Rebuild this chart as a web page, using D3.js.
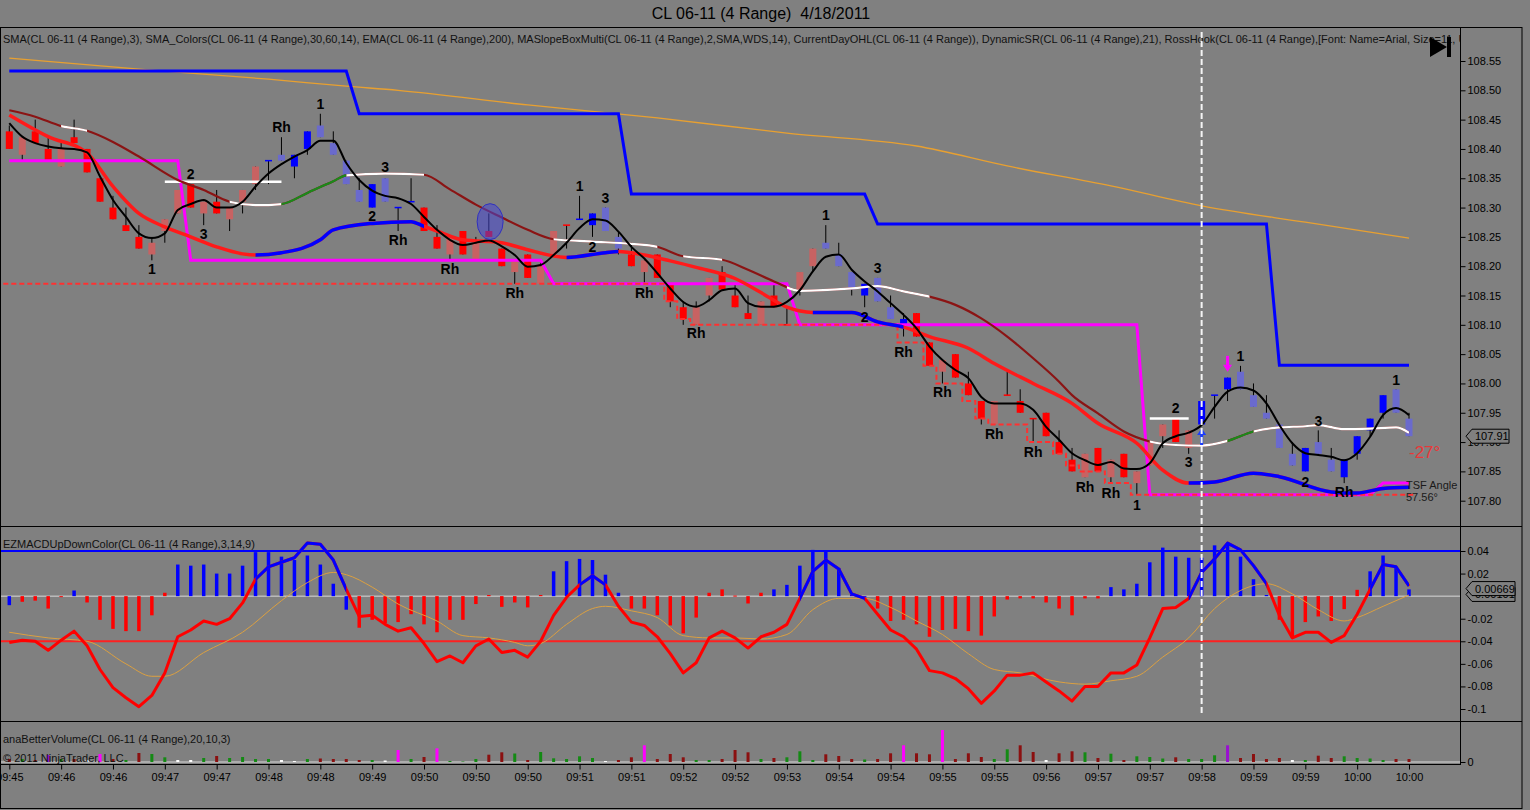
<!DOCTYPE html>
<html>
<head>
<meta charset="utf-8">
<script src="https://cdn.jsdelivr.net/npm/d3@7"></script>
<style>
body { margin: 0; background: #808080; }
svg { display: block; font-family: "Liberation Sans", Arial, sans-serif; }
</style>
</head>
<body>
<svg id="chart" width="1530" height="810"></svg>
<script>
// ---- data ----
var timeLabels = ["09:45","09:46","09:46","09:47","09:47","09:48","09:48","09:49","09:50","09:50",
  "09:50","09:51","09:51","09:52","09:52","09:53","09:54","09:54","09:55","09:55",
  "09:56","09:57","09:57","09:58","09:59","09:59","10:00","10:00"];

var opens = [108.43,108.42,108.43,108.40,108.40,108.42,108.40,108.35,108.30,108.27,
  108.25,108.24,108.28,108.33,108.34,108.31,108.31,108.30,108.33,108.37,
  108.38,108.38,108.37,108.40,108.42,108.39,108.34,108.31,108.30,108.31,
  108.30,108.31,108.30,108.25,108.25,108.26,108.24,108.26,108.23,108.21,
  108.22,108.20,108.26,108.27,108.28,108.27,108.26,108.23,108.22,108.21,
  108.22,108.17,108.13,108.13,108.18,108.19,108.15,108.12,108.14,108.15,
  108.10,108.19,108.23,108.23,108.20,108.16,108.15,108.14,108.11,108.10,
  108.12,108.07,108.04,108.05,108.00,107.97,107.97,107.98,107.97,107.94,
  107.95,107.90,107.87,107.88,107.89,107.87,107.88,107.85,107.90,107.93,
  107.94,107.92,107.93,107.98,107.99,107.99,107.96,107.94,107.89,107.86,
  107.85,107.88,107.85,107.84,107.88,107.92,107.95,107.95,107.91];
var highs = [108.44,108.42,108.45,108.42,108.41,108.45,108.40,108.35,108.32,108.30,
  108.27,108.25,108.28,108.33,108.34,108.31,108.33,108.30,108.33,108.37,
  108.38,108.42,108.39,108.43,108.46,108.43,108.38,108.35,108.34,108.35,
  108.30,108.35,108.30,108.27,108.25,108.26,108.25,108.29,108.23,108.21,
  108.22,108.21,108.26,108.27,108.32,108.29,108.30,108.26,108.24,108.21,
  108.22,108.17,108.14,108.14,108.18,108.20,108.17,108.15,108.14,108.17,
  108.13,108.19,108.23,108.27,108.24,108.19,108.17,108.18,108.15,108.12,
  108.12,108.07,108.04,108.05,108.02,107.97,107.97,108.02,107.99,107.94,
  107.95,107.92,107.89,107.88,107.89,107.87,107.88,107.85,107.90,107.93,
  107.94,107.92,107.97,107.98,108.01,108.03,108.00,107.98,107.93,107.90,
  107.89,107.92,107.89,107.87,107.91,107.94,107.98,107.99,107.95];
var lows = [108.40,108.38,108.41,108.38,108.37,108.41,108.36,108.31,108.28,108.26,
  108.23,108.21,108.24,108.29,108.30,108.27,108.29,108.26,108.29,108.33,
  108.34,108.38,108.35,108.39,108.42,108.39,108.34,108.31,108.30,108.31,
  108.26,108.31,108.26,108.23,108.21,108.22,108.21,108.25,108.20,108.17,
  108.18,108.17,108.22,108.23,108.28,108.25,108.26,108.22,108.20,108.17,
  108.18,108.13,108.10,108.10,108.14,108.16,108.13,108.11,108.10,108.13,
  108.10,108.15,108.19,108.23,108.20,108.15,108.13,108.14,108.11,108.08,
  108.08,108.03,108.00,108.01,107.98,107.93,107.93,107.98,107.95,107.90,
  107.91,107.88,107.85,107.84,107.85,107.83,107.84,107.81,107.86,107.89,
  107.90,107.88,107.93,107.94,107.97,107.99,107.96,107.94,107.89,107.86,
  107.85,107.88,107.85,107.83,107.87,107.91,107.94,107.95,107.91];
var closes = [108.40,108.39,108.41,108.38,108.37,108.41,108.36,108.31,108.28,108.26,
  108.23,108.22,108.26,108.29,108.30,108.29,108.29,108.28,108.31,108.34,
  108.38,108.39,108.39,108.43,108.44,108.41,108.38,108.33,108.34,108.35,
  108.30,108.31,108.26,108.23,108.22,108.22,108.21,108.25,108.20,108.19,
  108.18,108.17,108.22,108.27,108.28,108.29,108.30,108.25,108.20,108.19,
  108.18,108.14,108.11,108.10,108.15,108.16,108.13,108.11,108.10,108.13,
  108.10,108.16,108.20,108.24,108.22,108.19,108.17,108.18,108.13,108.11,
  108.08,108.03,108.02,108.01,107.98,107.94,107.93,107.98,107.95,107.94,
  107.91,107.88,107.85,107.84,107.85,107.84,107.84,107.83,107.86,107.91,
  107.90,107.89,107.97,107.98,108.01,108.02,107.98,107.95,107.93,107.88,
  107.89,107.90,107.87,107.87,107.91,107.94,107.98,107.99,107.94];
// R red, r pale red, B blue, b pale blue
var barColors = "RrRRrRRRRR" + "RrrrRrRrrr" + "bbBBbbbbBb" + "BBRRrRrRRr" + "RrrrbBbbRr" +
  "RRRrrRRRrR" + "rrrbbbBbbB" + "RRrRRRrrRr" + "RRRrRrRrrr" + "RrBbBbbbbb" + "BbbBBBBbb";

// SMA(3) black
var smaFast = [108.444,108.421,108.410,108.404,108.401,108.400,108.394,108.353,108.313,108.284,
  108.256,108.248,108.256,108.296,108.306,108.313,108.300,108.300,108.310,108.336,
  108.358,108.374,108.387,108.398,108.414,108.414,108.376,108.347,108.329,108.320,
  108.316,108.306,108.284,108.262,108.245,108.236,108.240,108.244,108.234,108.219,
  108.199,108.202,108.219,108.240,108.265,108.280,108.278,108.259,108.233,108.213,
  108.188,108.162,108.139,108.131,108.142,108.159,108.162,108.137,108.131,108.131,
  108.139,108.159,108.191,108.216,108.220,108.194,108.174,108.157,108.137,108.117,
  108.094,108.063,108.040,108.023,108.009,107.977,107.966,107.966,107.966,107.955,
  107.926,107.904,107.881,107.869,107.861,107.866,107.855,107.854,107.864,107.898,
  107.910,107.916,107.929,107.960,107.986,107.993,107.988,107.966,107.929,107.898,
  107.881,107.878,107.875,107.869,107.881,107.909,107.946,107.958,107.946];

// SMA_Colors slow line (dark red, with white / green stretches)
var smaSlow = [[0,108.466],[2,108.455],[4,108.439],[6,108.431],[8,108.412],[10,108.387],[13,108.347],
  [15,108.330],[17,108.310],[19,108.304],[21,108.306],[23,108.325],[25,108.345],[26,108.355],[29,108.358],
  [32,108.356],[34,108.331],[36,108.305],[38,108.283],[40,108.262],[42,108.246],[45,108.242],[48,108.238],
  [50,108.233],[52,108.217],[55,108.211],[57,108.194],[59,108.174],[61,108.158],[65,108.162],[67,108.166],
  [69,108.157],[71,108.148],[73,108.134],[75,108.111],[77,108.080],[79,108.043],[81,108.003],[82,107.980],
  [84,107.949],[86,107.918],[88,107.901],[90,107.895],[92,107.894],[94,107.902],[96,107.918],[98,107.925],
  [100,107.927],[101,107.929],[103,107.922],[105,107.923],[107,107.925],[108,107.916]];
var smaSlowWhite = [[4,6],[17,21],[26,32],[42,50],[52,55],[60,71],[88,94],[96,108]];
var smaSlowGreen = [[21,26],[94,96]];

// SMA_Colors mid line (red, blue stretches)
var smaMid = [[0,108.458],[3,108.421],[6,108.393],[8,108.336],[10,108.290],[12,108.267],[14,108.250],
  [16,108.233],[18,108.221],[19,108.219],[21,108.223],[24,108.245],[25,108.262],[28,108.273],[31,108.276],
  [32,108.268],[33,108.260],[35,108.245],[38,108.240],[40,108.228],[43,108.215],[46,108.223],[47,108.225],
  [49,108.219],[51,108.209],[53,108.198],[56,108.179],[58,108.155],[60,108.130],[62,108.121],[65,108.121],
  [67,108.105],[69,108.096],[71,108.080],[74,108.060],[76,108.034],[79,108.000],[82,107.966],[84,107.932],
  [87,107.898],[89,107.852],[91,107.830],[93,107.832],[96,107.847],[98,107.841],[102,107.815],[104,107.813],
  [106,107.821],[108,107.823]];
var smaMidBlue = [[19,32],[43,47],[62,69],[91,108]];

// EMA(200)
var ema200 = [[0,108.555],[10,108.536],[20,108.519],[26,108.507],[30,108.500],[40,108.475],[50,108.453],
  [60,108.427],[70,108.405],[77,108.371],[85,108.337],[92,108.303],[100,108.275],[108,108.248]];

// DynamicSR (blue) and MASlopeBox level (magenta) steps
var srLevels = [108.533, 108.46, 108.323, 108.272, 108.031];
var srStarts = [0, 27, 48, 67, 98];
var boxLevels = [108.38, 108.21, 108.17, 108.10, 107.81, 107.83];
var boxStarts = [0, 14, 42, 61, 88, 106];

// current day low (red dashed stairs)
var dayLow = [[0,108.17],[51,108.14],[52,108.11],[53,108.10],[69,108.07],[71,108.03],[72,108.00],
  [74,107.97],[75,107.94],[76,107.93],[79,107.90],[81,107.88],[82,107.86],[83,107.85],[85,107.83],
  [87,107.81],[108,107.81]];

// RossHook levels and labels
var hookLevels = [[12,21,108.344],[88,91,107.94]];
var hookLabels = [[21,108.437,"Rh"],[24,108.477,"1"],[14,108.357,"2"],[15,108.255,"3"],[11,108.195,"1"],
  [29,108.369,"3"],[28,108.286,"2"],[30,108.245,"Rh"],[34,108.195,"Rh"],[39,108.154,"Rh"],
  [44,108.337,"1"],[46,108.316,"3"],[45,108.233,"2"],[49,108.154,"Rh"],[53,108.086,"Rh"],
  [63,108.287,"1"],[67,108.197,"3"],[66,108.113,"2"],[69,108.054,"Rh"],[72,107.985,"Rh"],
  [76,107.914,"Rh"],[79,107.883,"Rh"],[83,107.823,"Rh"],[85,107.813,"Rh"],[87,107.793,"1"],
  [90,107.958,"2"],[91,107.866,"3"],[95,108.047,"1"],[101,107.936,"3"],[100,107.832,"2"],
  [103,107.815,"Rh"],[107,108.006,"1"]];

// EZMACD
var macdHist = [-0.008,-0.005,-0.004,-0.011,-0.0005,0.005,-0.0056,-0.021,-0.029,-0.031,
  -0.031,-0.017,0.003,0.028,0.027,0.028,0.020,0.020,0.027,0.039,
  0.039,0.035,0.032,0.036,0.028,0.011,-0.012,-0.028,-0.021,-0.024,
  -0.023,-0.016,-0.025,-0.032,-0.021,-0.021,-0.007,0.001,-0.0095,-0.0056,
  -0.010,0.001,0.022,0.031,0.033,0.032,0.019,0.003,-0.011,-0.011,
  -0.017,-0.026,-0.033,-0.019,0.003,0.006,0.0005,-0.0065,0.003,0.006,
  0.010,0.027,0.041,0.040,0.025,0.001,-0.001,-0.011,-0.022,-0.021,
  -0.025,-0.036,-0.030,-0.029,-0.031,-0.035,-0.018,-0.003,-0.002,-0.002,
  -0.0056,-0.011,-0.017,-0.002,-0.002,0.008,0.006,0.011,0.030,0.043,
  0.035,0.034,0.034,0.045,0.045,0.035,0.015,0.001,-0.021,-0.037,
  -0.023,-0.018,-0.022,-0.0115,0.0056,0.022,0.036,0.026,0.006];
var macdHistColors = "brrrrbrrrr" + "rrrbbbbbbb" + "bbbbbbbrrr" + "rrrrrrrrrr" + "rrbbbbbbrr" +
  "rrrrrrrrrb" + "bbbbbbbrrr" + "rrrrrrrrrr" + "rrrrrbbbbb" + "bbbbbbbbrr" + "rrrrrbbbb";
var macdLine = [-0.041,-0.039,-0.040,-0.048,-0.039,-0.031,-0.044,-0.065,-0.081,-0.090,
  -0.098,-0.088,-0.068,-0.036,-0.030,-0.022,-0.025,-0.020,-0.006,0.015,
  0.026,0.030,0.034,0.047,0.046,0.032,0.006,-0.018,-0.017,-0.025,
  -0.031,-0.028,-0.042,-0.058,-0.053,-0.059,-0.044,-0.038,-0.050,-0.048,
  -0.054,-0.040,-0.017,-0.001,0.010,0.018,0.010,-0.009,-0.023,-0.026,
  -0.036,-0.051,-0.068,-0.059,-0.037,-0.031,-0.037,-0.046,-0.036,-0.032,
  -0.025,-0.002,0.022,0.032,0.024,0.002,-0.002,-0.016,-0.030,-0.036,
  -0.047,-0.066,-0.068,-0.073,-0.082,-0.095,-0.084,-0.070,-0.070,-0.068,
  -0.076,-0.084,-0.093,-0.080,-0.080,-0.068,-0.068,-0.061,-0.037,-0.011,
  -0.010,-0.002,0.021,0.033,0.047,0.041,0.027,0.011,-0.017,-0.037,
  -0.032,-0.032,-0.041,-0.035,-0.016,0.006,0.028,0.026,0.009];
var macdBlue = [[19,26],[44,46],[61,66],[91,97],[105,108]];
var macdSignal = [[0,-0.032],[3,-0.037],[6,-0.040],[9,-0.060],[11,-0.071],[12,-0.071],[15,-0.050],
  [18,-0.032],[21,-0.004],[23,0.012],[25,0.021],[26,0.019],[28,0.008],[30,-0.007],[33,-0.022],
  [35,-0.035],[37,-0.037],[39,-0.041],[40,-0.044],[41,-0.042],[43,-0.025],[45,-0.011],[46,-0.009],
  [48,-0.013],[50,-0.019],[52,-0.035],[54,-0.037],[56,-0.037],[58,-0.038],[60,-0.034],[62,-0.012],
  [64,-0.002],[66,-0.002],[68,-0.010],[70,-0.022],[72,-0.034],[74,-0.051],[76,-0.065],[78,-0.068],
  [81,-0.076],[83,-0.078],[85,-0.075],[87,-0.071],[89,-0.054],[91,-0.037],[93,-0.011],[95,0.005],
  [97,0.011],[99,0.002],[101,-0.012],[103,-0.022],[104,-0.019],[106,-0.009],[108,0.001]];

// anaBetterVolume
var volume = [30,30,20,70,30,30,20,80,30,20,
  90,80,47,20,20,40,60,40,50,30,
  30,20,10,30,35,30,30,20,20,15,
  120,30,50,137,10,5,30,73,97,85,
  20,100,37,30,57,40,10,20,47,167,
  30,80,47,20,20,30,120,97,30,40,
  47,107,20,77,60,30,25,30,87,167,
  87,77,320,30,87,50,30,127,167,100,
  20,87,107,97,40,83,20,57,50,35,
  47,30,30,67,167,40,80,30,40,20,
  20,63,40,57,40,35,20,30,30];
var volColors = "RGRPGRWMRG" + "RGGWWGRGGG" + "GWWGRRRRGW" + "MGRMGGGRRG" + "RGGGGGWRRM" +
  "RRRGGRRRGR" + "GGGRRRGRRM" + "RRMRRRGGRR" + "WRRGRGRGGG" + "RGGGPRRRRW" + "GRRGGGGRR";

// ---- layout ----
var W = 1530, H = 810;
var plotRight = 1460, frameRight = 1522;
var svg = d3.select("#chart");
var defs = svg.append("defs");

var x = d3.scaleLinear().domain([0, 108]).range([9.3, 1409]);
var yP = d3.scaleLinear().domain([107.80, 108.55]).range([500.7, 61]);
var yM = d3.scaleLinear().domain([-0.1, 0.04]).range([709, 551]);
var yV = d3.scaleLinear().domain([0, 400]).range([762, 722]);

function clipRect(id, x0, y0, w, h) {
  defs.append("clipPath").attr("id", id).append("rect")
    .attr("x", x0).attr("y", y0).attr("width", w).attr("height", h);
}
clipRect("clipP", 1, 28, plotRight - 1, 498);
clipRect("clipM", 1, 527, plotRight - 1, 194);
clipRect("clipV", 1, 722, plotRight - 1, 42);

function runClip(id, runs) {
  var cp = defs.append("clipPath").attr("id", id);
  runs.forEach(function (r) {
    cp.append("rect").attr("x", x(r[0])).attr("y", 0)
      .attr("width", x(r[1]) - x(r[0])).attr("height", H);
  });
}
runClip("runSlowWhite", smaSlowWhite);
runClip("runSlowGreen", smaSlowGreen);
runClip("runMidBlue", smaMidBlue);
runClip("runMacdBlue", macdBlue);

function steps(levels, starts) {
  return d3.range(0, 109).map(function (i) {
    return [i, levels[d3.bisectRight(starts, i) - 1]];
  });
}

var lineP = d3.line().x(function (d) { return x(d[0]); }).y(function (d) { return yP(d[1]); });
var smoothP = d3.line().x(function (d) { return x(d[0]); }).y(function (d) { return yP(d[1]); })
  .curve(d3.curveMonotoneX);
var smoothM = d3.line().x(function (d) { return x(d[0]); }).y(function (d) { return yM(d[1]); })
  .curve(d3.curveMonotoneX);

// title
svg.append("text").attr("x", 761).attr("y", 19).attr("text-anchor", "middle")
  .style("white-space", "pre").attr("font-size", 16).attr("fill", "#000")
  .text("CL 06-11 (4 Range)  4/18/2011");

// ---- price panel ----
var gP = svg.append("g").attr("clip-path", "url(#clipP)");

gP.append("text").attr("x", 3).attr("y", 43).attr("font-size", 11).attr("fill", "#111")
  .text("SMA(CL 06-11 (4 Range),3), SMA_Colors(CL 06-11 (4 Range),30,60,14), EMA(CL 06-11 (4 Range),200), MASlopeBoxMulti(CL 06-11 (4 Range),2,SMA,WDS,14), CurrentDayOHL(CL 06-11 (4 Range)), DynamicSR(CL 06-11 (4 Range),21), RossHook(CL 06-11 (4 Range),[Font: Name=Arial, Size=11, Units=Points])");

// EMA 200
gP.append("path").datum(ema200).attr("d", smoothP)
  .attr("fill", "none").attr("stroke", "#e8a030").attr("stroke-width", 1.3);

// DynamicSR
gP.append("path").datum(steps(srLevels, srStarts)).attr("d", lineP)
  .attr("fill", "none").attr("stroke", "#0000ff").attr("stroke-width", 3);

// candles
var bars = d3.range(0, 109).map(function (i) {
  return { i: i, o: opens[i], h: highs[i], l: lows[i], c: closes[i], k: barColors[i] };
});
var candleFill = { R: "#ff0000", r: "#c86262", B: "#0000ff", b: "#6a6acd" };
gP.append("g").selectAll("line").data(bars).enter().append("line")
  .attr("x1", function (d) { return x(d.i); }).attr("x2", function (d) { return x(d.i); })
  .attr("y1", function (d) { return yP(d.h); }).attr("y2", function (d) { return yP(d.l); })
  .attr("stroke", "#000").attr("stroke-width", 1);
gP.append("g").selectAll("rect").data(bars).enter().append("rect")
  .attr("x", function (d) { return x(d.i) - 3.5; })
  .attr("width", 7)
  .attr("y", function (d) { return yP(Math.max(d.o, d.c)) - (d.o === d.c ? 0.75 : 0); })
  .attr("height", function (d) { return Math.max(1.5, yP(Math.min(d.o, d.c)) - yP(Math.max(d.o, d.c))); })
  .attr("fill", function (d) { return candleFill[d.o === d.c ? d.k.toUpperCase() : d.k]; });

// MASlopeBox level (magenta)
gP.append("path").datum(steps(boxLevels, boxStarts)).attr("d", lineP)
  .attr("fill", "none").attr("stroke", "#ff00ff").attr("stroke-width", 3);

// current day low, dashed stairs
var lowPts = dayLow.map(function (d) { return [x(d[0]) - 6, yP(d[1])]; });
lowPts.push([x(108) + 5, yP(dayLow[dayLow.length - 1][1])]);
gP.append("path").datum(lowPts)
  .attr("d", d3.line().curve(d3.curveStepAfter))
  .attr("fill", "none").attr("stroke", "#ff3030").attr("stroke-width", 2)
  .attr("stroke-dasharray", "5,3");

// RossHook white levels
gP.append("g").selectAll("line").data(hookLevels).enter().append("line")
  .attr("x1", function (d) { return x(d[0]); }).attr("x2", function (d) { return x(d[1]); })
  .attr("y1", function (d) { return yP(d[2]); }).attr("y2", function (d) { return yP(d[2]); })
  .attr("stroke", "#ffffff").attr("stroke-width", 2.5);

// slow SMA: dark red, white, green stretches
gP.append("path").datum(smaSlow).attr("d", smoothP)
  .attr("fill", "none").attr("stroke", "#8b1414").attr("stroke-width", 2.2);
gP.append("g").attr("clip-path", "url(#runSlowWhite)").append("path").datum(smaSlow).attr("d", smoothP)
  .attr("fill", "none").attr("stroke", "#ffffff").attr("stroke-width", 2.2);
gP.append("g").attr("clip-path", "url(#runSlowGreen)").append("path").datum(smaSlow).attr("d", smoothP)
  .attr("fill", "none").attr("stroke", "#1a8a1a").attr("stroke-width", 2.2);

// mid SMA: red with blue stretches
gP.append("path").datum(smaMid).attr("d", smoothP)
  .attr("fill", "none").attr("stroke", "#ff1a1a").attr("stroke-width", 3.5);
gP.append("g").attr("clip-path", "url(#runMidBlue)").append("path").datum(smaMid).attr("d", smoothP)
  .attr("fill", "none").attr("stroke", "#0000ff").attr("stroke-width", 3.5);

// SMA(3)
gP.append("path").datum(smaFast.map(function (v, i) { return [i, v]; })).attr("d", smoothP)
  .attr("fill", "none").attr("stroke", "#000").attr("stroke-width", 2);

// marked bar
gP.append("ellipse").attr("cx", x(37.1)).attr("cy", yP(108.276)).attr("rx", 13).attr("ry", 18)
  .attr("fill", "rgba(70,70,210,0.55)").attr("stroke", "#3030c0");

// signal arrows
function arrow(i, from, to, color) {
  var x0 = x(i), y0 = yP(from), y1 = yP(to), dir = y1 > y0 ? 1 : -1;
  gP.append("line").attr("x1", x0).attr("x2", x0).attr("y1", y0).attr("y2", y1 - dir * 5)
    .attr("stroke", color).attr("stroke-width", 3);
  gP.append("path").attr("d", "M" + (x0 - 4.5) + "," + (y1 - dir * 7) + "L" + (x0 + 4.5) + "," + (y1 - dir * 7) + "L" + x0 + "," + y1 + "Z")
    .attr("fill", color);
}
arrow(92, 107.895, 107.924, "#1a3cff");
arrow(94, 108.047, 108.020, "#ff00ff");

// RossHook labels
gP.append("g").selectAll("text").data(hookLabels).enter().append("text")
  .attr("x", function (d) { return x(d[0]); }).attr("y", function (d) { return yP(d[1]); })
  .attr("text-anchor", "middle").attr("dominant-baseline", "central")
  .attr("font-size", 14).attr("font-weight", "bold").attr("fill", "#000")
  .text(function (d) { return d[2]; });

// TSF angle texts
gP.append("text").attr("x", 1409).attr("y", 458).attr("font-size", 17).attr("fill", "#e83838").text("-27\u00b0");
gP.append("text").attr("x", 1406).attr("y", 489).attr("font-size", 11).attr("fill", "#1a1a1a").text("TSF Angle");
gP.append("text").attr("x", 1406).attr("y", 501).attr("font-size", 11).attr("fill", "#1a1a1a").text("57.56\u00b0");

// scroll icon
svg.append("path").attr("d", "M1430,37L1447,47L1430,57Z").attr("fill", "#000");
svg.append("rect").attr("x", 1447).attr("y", 37).attr("width", 4).attr("height", 20).attr("fill", "#000");

// ---- MACD panel ----
var gM = svg.append("g").attr("clip-path", "url(#clipM)");
gM.append("text").attr("x", 3).attr("y", 548).attr("font-size", 11).attr("fill", "#111")
  .text("EZMACDUpDownColor(CL 06-11 (4 Range),3,14,9)");
gM.append("line").attr("x1", 0).attr("x2", plotRight).attr("y1", yM(0)).attr("y2", yM(0))
  .attr("stroke", "#d8d8d8").attr("stroke-width", 1);
gM.append("line").attr("x1", 0).attr("x2", plotRight).attr("y1", yM(0.04)).attr("y2", yM(0.04))
  .attr("stroke", "#0000ff").attr("stroke-width", 2);
gM.append("line").attr("x1", 0).attr("x2", plotRight).attr("y1", yM(-0.04)).attr("y2", yM(-0.04))
  .attr("stroke", "#ff2020").attr("stroke-width", 2);
gM.append("g").selectAll("rect").data(macdHist).enter().append("rect")
  .attr("x", function (d, i) { return x(i) - 1.75; }).attr("width", 3.5)
  .attr("y", function (d) { return yM(Math.max(0, d)); })
  .attr("height", function (d) { return Math.max(1, Math.abs(yM(d) - yM(0))); })
  .attr("fill", function (d, i) { return macdHistColors[i] === "b" ? "#0000ff" : "#ff0000"; });
gM.append("path").datum(macdSignal).attr("d", smoothM)
  .attr("fill", "none").attr("stroke", "#dca040").attr("stroke-width", 1);
var macdPts = macdLine.map(function (v, i) { return [i, v]; });
var straightM = d3.line().x(function (d) { return x(d[0]); }).y(function (d) { return yM(d[1]); });
gM.append("path").datum(macdPts).attr("d", straightM)
  .attr("fill", "none").attr("stroke", "#ff0000").attr("stroke-width", 3).attr("stroke-linejoin", "round");
gM.append("g").attr("clip-path", "url(#runMacdBlue)").append("path").datum(macdPts).attr("d", straightM)
  .attr("fill", "none").attr("stroke", "#0000ff").attr("stroke-width", 3).attr("stroke-linejoin", "round");

// ---- volume panel ----
var gV = svg.append("g").attr("clip-path", "url(#clipV)");
gV.append("line").attr("x1", 0).attr("x2", plotRight).attr("y1", yV(0)).attr("y2", yV(0))
  .attr("stroke", "#d8d8d8").attr("stroke-width", 1);
var volFill = { R: "#8b1010", G: "#148a14", W: "#ffffff", M: "#ff00ff", P: "#9a10d0" };
gV.append("g").selectAll("rect").data(volume).enter().append("rect")
  .attr("x", function (d, i) { return x(i) - 1.5; }).attr("width", 3)
  .attr("y", function (d) { return yV(d); })
  .attr("height", function (d) { return yV(0) - yV(d); })
  .attr("fill", function (d, i) { return volFill[volColors[i]]; });
gV.append("text").attr("x", 3).attr("y", 743).attr("font-size", 11).attr("fill", "#111")
  .text("anaBetterVolume(CL 06-11 (4 Range),20,10,3)");
gV.append("text").attr("x", 3).attr("y", 762).attr("font-size", 11).attr("fill", "#111")
  .text("\u00a9 2011 NinjaTrader, LLC");

// dashed time marker
svg.append("line").attr("x1", x(92)).attr("x2", x(92)).attr("y1", 32).attr("y2", 716)
  .attr("stroke", "#f4f4f4").attr("stroke-width", 2).attr("stroke-dasharray", "6,3");

// ---- frames ----
var frame = svg.append("g").attr("stroke", "#000").attr("stroke-width", 1).attr("fill", "none");
frame.append("rect").attr("x", 0.5).attr("y", 27.5).attr("width", frameRight - 0.5).attr("height", 781);
[526.5, 721.5].forEach(function (yy) {
  frame.append("line").attr("x1", 0).attr("x2", frameRight).attr("y1", yy).attr("y2", yy);
});
frame.append("line").attr("x1", 0).attr("x2", plotRight).attr("y1", 764.5).attr("y2", 764.5);
frame.append("line").attr("x1", plotRight + 0.5).attr("x2", plotRight + 0.5).attr("y1", 27).attr("y2", 765);

// ---- axes ----
function styleAxis(g) {
  g.select(".domain").remove();
  g.selectAll("text").attr("font-size", 11).attr("fill", "#000")
    .attr("font-family", "'Liberation Sans', Arial, sans-serif");
  g.selectAll("line").attr("stroke", "#000");
}
var priceTicks = d3.range(0, 16).map(function (k) { return 107.80 + k * 0.05; });
svg.append("g").attr("transform", "translate(" + (plotRight + 0.5) + ",0)")
  .call(d3.axisRight(yP).tickValues(priceTicks).tickFormat(d3.format(".2f")).tickSize(5).tickPadding(2))
  .call(styleAxis);
svg.append("g").attr("transform", "translate(" + (plotRight + 0.5) + ",0)")
  .call(d3.axisRight(yM).tickValues([0.04, 0.02, -0.02, -0.04, -0.06, -0.08, -0.1])
    .tickFormat(function (d) { return String(+d.toFixed(2)); }).tickSize(5).tickPadding(2))
  .call(styleAxis);
svg.append("g").attr("transform", "translate(" + (plotRight + 0.5) + ",0)")
  .call(d3.axisRight(yV).tickValues([0]).tickFormat(d3.format("d")).tickSize(5).tickPadding(2))
  .call(styleAxis);
svg.append("g").attr("transform", "translate(0,764.5)")
  .call(d3.axisBottom(x).tickValues(d3.range(0, 109, 4))
    .tickFormat(function (d, k) { return timeLabels[k]; }).tickSize(5).tickPadding(4))
  .call(styleAxis);

// last value markers
function marker(yy, label, right) {
  svg.append("path")
    .attr("d", "M" + (plotRight + 6) + "," + yy + "L" + (plotRight + 12) + "," + (yy - 7) +
      "L" + right + "," + (yy - 7) + "L" + right + "," + (yy + 7) +
      "L" + (plotRight + 12) + "," + (yy + 7) + "Z")
    .attr("fill", "#808080").attr("stroke", "#000");
  svg.append("text").attr("x", plotRight + 15).attr("y", yy).attr("dominant-baseline", "central")
    .attr("font-size", 11).attr("fill", "#000").text(label);
}
marker(yP(107.91), "107.91", 1509);
marker(yM(0.0015), "0.00101", 1515);
marker(yM(0.00669), "0.00669", 1515);
</script>
</body>
</html>
